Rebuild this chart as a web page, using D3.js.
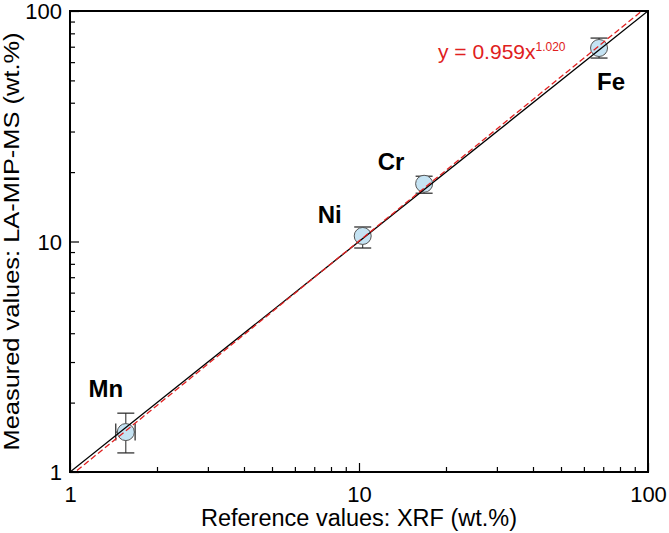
<!DOCTYPE html>
<html><head><meta charset="utf-8"><style>
body { margin: 0; background: #fff; }
text { font-family: "Liberation Sans", Arial, sans-serif; }
</style></head>
<body>
<svg width="669" height="533"></svg>
<script src="https://cdn.jsdelivr.net/npm/d3@7"></script>
<script>

var elements = ["Mn", "Ni", "Cr", "Fe"];
var xrf = [1.56, 10.3, 16.8, 67.7];
var xrfLo = [1.44, 10.3, 16.8, 67.7];
var xrfHi = [1.68, 10.3, 16.8, 67.7];
var measured = [1.49, 10.57, 17.8, 69.1];
var measuredLo = [1.21, 9.37, 16.2, 62.5];
var measuredHi = [1.80, 11.56, 19.2, 76.3];
var labelDx = [-20, -33, -33, 12];
var labelDy = [-35, -13, -14, 42];
var tickValues = [1, 10, 100];
var fitA = 0.959, fitB = 1.020;

var svg = d3.select("svg"),
    margin = {top: 11, right: 21, bottom: 61, left: 70},
    width = +svg.attr("width") - margin.left - margin.right,
    height = +svg.attr("height") - margin.top - margin.bottom,
    g = svg.append("g").attr("transform", "translate(" + margin.left + "," + margin.top + ")");

var x = d3.scaleLog().domain([1, 100]).range([0, width]);
var y = d3.scaleLog().domain([1, 100]).range([height, 0]);

var data = elements.map(function(e, i) {
  return {name: e, x: xrf[i], xl: xrfLo[i], xh: xrfHi[i],
          y: measured[i], yl: measuredLo[i], yh: measuredHi[i],
          dx: labelDx[i], dy: labelDy[i]};
});

g.append("defs").append("clipPath").attr("id", "clip")
  .append("rect").attr("width", width).attr("height", height);

// minor + major ticks, drawn inward
var minor = [];
for (var d = 1; d < 100; d *= 10)
  for (var k = 2; k <= 9; k++) minor.push(d * k);

var xa = g.append("g").attr("transform", "translate(0," + height + ")")
  .call(d3.axisBottom(x).tickValues(minor).tickSizeInner(-5).tickSizeOuter(0).tickFormat(""));
var xb = g.append("g").attr("transform", "translate(0," + height + ")")
  .call(d3.axisBottom(x).tickValues(tickValues).tickSizeInner(-9).tickSizeOuter(0)
    .tickPadding(14).tickFormat(d3.format("d")));
var ya = g.append("g")
  .call(d3.axisLeft(y).tickValues(minor).tickSizeInner(-5).tickSizeOuter(0).tickFormat(""));
var yb = g.append("g")
  .call(d3.axisLeft(y).tickValues(tickValues).tickSizeInner(-9).tickSizeOuter(0)
    .tickPadding(8).tickFormat(d3.format("d")));

[xa, xb, ya, yb].forEach(function(a) {
  a.select(".domain").remove();
  a.selectAll("line").attr("stroke", "#000").attr("stroke-width", 1.2);
  a.selectAll("text").attr("font-size", 22).attr("fill", "#000")
    .style("font-family", "'Liberation Sans', Arial, sans-serif");
});
yb.selectAll("text").attr("dy", "0.36em");

var fitPts = d3.range(0, 2.001, 0.05).map(function(e) { return Math.pow(10, e); });
var fitLine = d3.line()
  .x(function(v) { return x(v); })
  .y(function(v) { return y(fitA * Math.pow(v, fitB)); });

// error bars
var pts = g.append("g").selectAll("g").data(data).enter().append("g");
pts.append("line")
  .attr("x1", function(d) { return x(d.x); }).attr("x2", function(d) { return x(d.x); })
  .attr("y1", function(d) { return y(d.yl); }).attr("y2", function(d) { return y(d.yh); })
  .attr("stroke", "#222").attr("stroke-width", 1);
pts.selectAll(".cap").data(function(d) { return [[d.x, d.yl], [d.x, d.yh]]; })
  .enter().append("line")
  .attr("x1", function(p) { return x(p[0]) - 8.5; }).attr("x2", function(p) { return x(p[0]) + 8.5; })
  .attr("y1", function(p) { return y(p[1]); }).attr("y2", function(p) { return y(p[1]); })
  .attr("stroke", "#222").attr("stroke-width", 1.2);
pts.filter(function(d) { return d.xh > d.xl; }).append("line")
  .attr("x1", function(d) { return x(d.xl); }).attr("x2", function(d) { return x(d.xh); })
  .attr("y1", function(d) { return y(d.y); }).attr("y2", function(d) { return y(d.y); })
  .attr("stroke", "#222").attr("stroke-width", 1);
pts.filter(function(d) { return d.xh > d.xl; })
  .selectAll(".xcap").data(function(d) { return [[d.xl, d.y], [d.xh, d.y]]; })
  .enter().append("line")
  .attr("x1", function(p) { return x(p[0]); }).attr("x2", function(p) { return x(p[0]); })
  .attr("y1", function(p) { return y(p[1]) - 8.5; }).attr("y2", function(p) { return y(p[1]) + 8.5; })
  .attr("stroke", "#222").attr("stroke-width", 1.2);

pts.append("circle")
  .attr("cx", function(d) { return x(d.x); })
  .attr("cy", function(d) { return y(d.y); })
  .attr("r", 8.5)
  .attr("fill", "#c5e3f3")
  .attr("stroke", "#555")
  .attr("stroke-width", 1);

// 1:1 line and fit line, on top of the symbols
var lines = g.append("g").attr("clip-path", "url(#clip)");
lines.append("line")
  .attr("x1", x(1)).attr("y1", y(1)).attr("x2", x(100)).attr("y2", y(100))
  .attr("stroke", "#000").attr("stroke-width", 1.3);
lines.append("path")
  .datum(fitPts)
  .attr("d", fitLine)
  .attr("fill", "none")
  .attr("stroke", "#e02020")
  .attr("stroke-width", 1.3)
  .attr("stroke-dasharray", "6,3");

pts.append("text")
  .attr("x", function(d) { return x(d.x) + d.dx; })
  .attr("y", function(d) { return y(d.y) + d.dy; })
  .attr("text-anchor", "middle")
  .attr("font-size", 24)
  .attr("font-weight", "bold")
  .attr("fill", "#000")
  .text(function(d) { return d.name; });

// equation
var eq = g.append("text")
  .attr("x", 368).attr("y", 48)
  .attr("font-size", 21)
  .attr("fill", "#e02020");
eq.append("tspan").text("y = " + fitA.toFixed(3) + "x");
eq.append("tspan").attr("dy", -8).attr("font-size", 12).text(fitB.toFixed(3));

// frame
g.append("rect")
  .attr("width", width).attr("height", height)
  .attr("fill", "none").attr("stroke", "#000").attr("stroke-width", 2);

// axis titles
svg.append("text")
  .attr("x", margin.left + width / 2).attr("y", 526)
  .attr("text-anchor", "middle")
  .attr("font-size", 23.5)
  .text("Reference values: XRF (wt.%)");
svg.append("text")
  .attr("transform", "translate(19," + (margin.top + height / 2) + ") rotate(-90)")
  .attr("text-anchor", "middle")
  .attr("font-size", 22)
  .attr("textLength", 418)
  .attr("lengthAdjust", "spacingAndGlyphs")
  .text("Measured values: LA-MIP-MS (wt.%)");

</script>
</body></html>
